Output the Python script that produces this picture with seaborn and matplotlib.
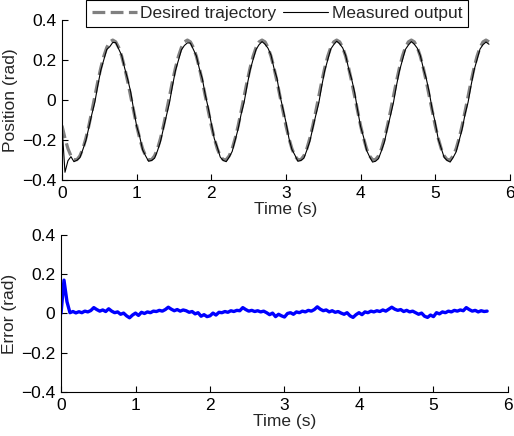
import numpy as np
import pandas as pd
import matplotlib
matplotlib.use("Agg")
import matplotlib.pyplot as plt
import seaborn as sns

# sampling time grid (s), 0.04 s steps up to 5.72 s
time_s = np.round(np.arange(144) * 0.04, 2)

# desired trajectory (rad)
desired = [
    -0.128, -0.191, -0.243, -0.279, -0.298, -0.298, -0.279, -0.243, -0.191, -0.128,
    -0.056, 0.019, 0.093, 0.161, 0.219, 0.263, 0.291, 0.300, 0.291, 0.263,
    0.219, 0.161, 0.093, 0.019, -0.056,
    -0.128, -0.191, -0.243, -0.279, -0.298, -0.298, -0.279, -0.243, -0.191, -0.128,
    -0.056, 0.019, 0.093, 0.161, 0.219, 0.263, 0.291, 0.300, 0.291, 0.263,
    0.219, 0.161, 0.093, 0.019, -0.056,
    -0.128, -0.191, -0.243, -0.279, -0.298, -0.298, -0.279, -0.243, -0.191, -0.128,
    -0.056, 0.019, 0.093, 0.161, 0.219, 0.263, 0.291, 0.300, 0.291, 0.263,
    0.219, 0.161, 0.093, 0.019, -0.056,
    -0.128, -0.191, -0.243, -0.279, -0.298, -0.298, -0.279, -0.243, -0.191, -0.128,
    -0.056, 0.019, 0.093, 0.161, 0.219, 0.263, 0.291, 0.300, 0.291, 0.263,
    0.219, 0.161, 0.093, 0.019, -0.056,
    -0.128, -0.191, -0.243, -0.279, -0.298, -0.298, -0.279, -0.243, -0.191, -0.128,
    -0.056, 0.019, 0.093, 0.161, 0.219, 0.263, 0.291, 0.300, 0.291, 0.263,
    0.219, 0.161, 0.093, 0.019, -0.056,
    -0.128, -0.191, -0.243, -0.279, -0.298, -0.298, -0.279, -0.243, -0.191, -0.128,
    -0.056, 0.019, 0.093, 0.161, 0.219, 0.263, 0.291, 0.300, 0.291,
]

# tracking error (rad)
error = [
    0.000, 0.170, 0.060, 0.004, 0.010, 0.003, 0.009, 0.004, 0.012, 0.008,
    0.015, 0.030, 0.020, 0.012, 0.018, 0.010, 0.024, 0.012, 0.004, 0.008,
    -0.004, 0.002, -0.012, -0.022, -0.008,
    0.002, -0.010, 0.006, 0.000, 0.008, 0.004, 0.012, 0.010, 0.016, 0.012,
    0.020, 0.032, 0.022, 0.014, 0.020, 0.012, 0.018, 0.014, 0.006, 0.010,
    -0.002, 0.004, -0.014, -0.006, -0.016,
    -0.012, 0.002, -0.008, 0.006, 0.004, 0.010, 0.006, 0.014, 0.010, 0.016,
    0.014, 0.030, 0.020, 0.012, 0.016, 0.010, 0.014, 0.008, 0.012, 0.004,
    -0.006, 0.002, -0.016, -0.004, -0.012,
    -0.018, 0.000, 0.004, -0.004, 0.008, 0.004, 0.012, 0.008, 0.016, 0.012,
    0.020, 0.034, 0.022, 0.014, 0.018, 0.008, 0.014, 0.006, 0.010, 0.002,
    -0.004, 0.004, -0.012, -0.020, -0.006,
    0.004, -0.006, 0.008, 0.004, 0.012, 0.008, 0.014, 0.010, 0.018, 0.012,
    0.022, 0.032, 0.022, 0.016, 0.020, 0.010, 0.016, 0.008, 0.012, 0.004,
    -0.004, 0.002, -0.014, -0.020, -0.008,
    -0.016, 0.004, -0.002, 0.008, 0.004, 0.012, 0.008, 0.016, 0.012, 0.018,
    0.014, 0.030, 0.020, 0.012, 0.016, 0.008, 0.014, 0.010, 0.012,
]

x_ticks = [0, 1, 2, 3, 4, 5, 6]
y_ticks = [-0.4, -0.2, 0, 0.2, 0.4]
y_tick_labels = ["\u22120.4", "\u22120.2", "0", "0.2", "0.4"]

df = pd.DataFrame({"t": time_s, "desired": desired, "error": error})
df["measured"] = df["desired"] - df["error"]

sns.set_style("ticks")
plt.rcParams["font.family"] = ["Liberation Sans", "DejaVu Sans"]
FS = 12.5

fig = plt.figure(figsize=(5.14, 4.36), dpi=100)
ax1 = fig.add_axes([0.1206, 0.587, 0.8714, 0.367])
ax2 = fig.add_axes([0.1187, 0.101, 0.8696, 0.360])

sns.lineplot(data=df, x="t", y="desired", ax=ax1, color="#808080", lw=2.3,
             linestyle=(0, (4, 1.7)), estimator=None, label="Desired trajectory")
sns.lineplot(data=df, x="t", y="measured", ax=ax1, color="black", lw=0.8,
             estimator=None, label="Measured output")
sns.lineplot(data=df, x="t", y="error", ax=ax2, color="#0000ff", lw=2.4,
             estimator=None)

for ax, ylab in [(ax1, "Position (rad)"), (ax2, "Error (rad)")]:
    ax.set_xlim(0, 6)
    ax.set_ylim(-0.4, 0.4)
    ax.set_xticks(x_ticks)
    ax.set_xticklabels([str(v) for v in x_ticks])
    ax.set_yticks(y_ticks)
    ax.set_yticklabels(y_tick_labels)
    ax.set_xlabel("Time (s)", fontsize=FS, labelpad=1)
    ax.set_ylabel(ylab, fontsize=FS, labelpad=3)
    ax.tick_params(direction="in", length=4, width=0.8, labelsize=FS, pad=4,
                   colors="black")
    for s in ["left", "bottom"]:
        ax.spines[s].set_color("black")
        ax.spines[s].set_linewidth(0.8)
    sns.despine(ax=ax)

leg = ax1.legend(loc="upper center", bbox_to_anchor=(0.48, 1.125), ncol=2,
                 frameon=True, fancybox=False, framealpha=1, edgecolor="black",
                 handlelength=2.6, handletextpad=0.2, columnspacing=0.4,
                 borderpad=0.35, borderaxespad=0, fontsize=FS)
leg.get_frame().set_linewidth(0.8)
if ax2.get_legend() is not None:
    ax2.get_legend().remove()

fig.savefig("out.png", dpi=100)
